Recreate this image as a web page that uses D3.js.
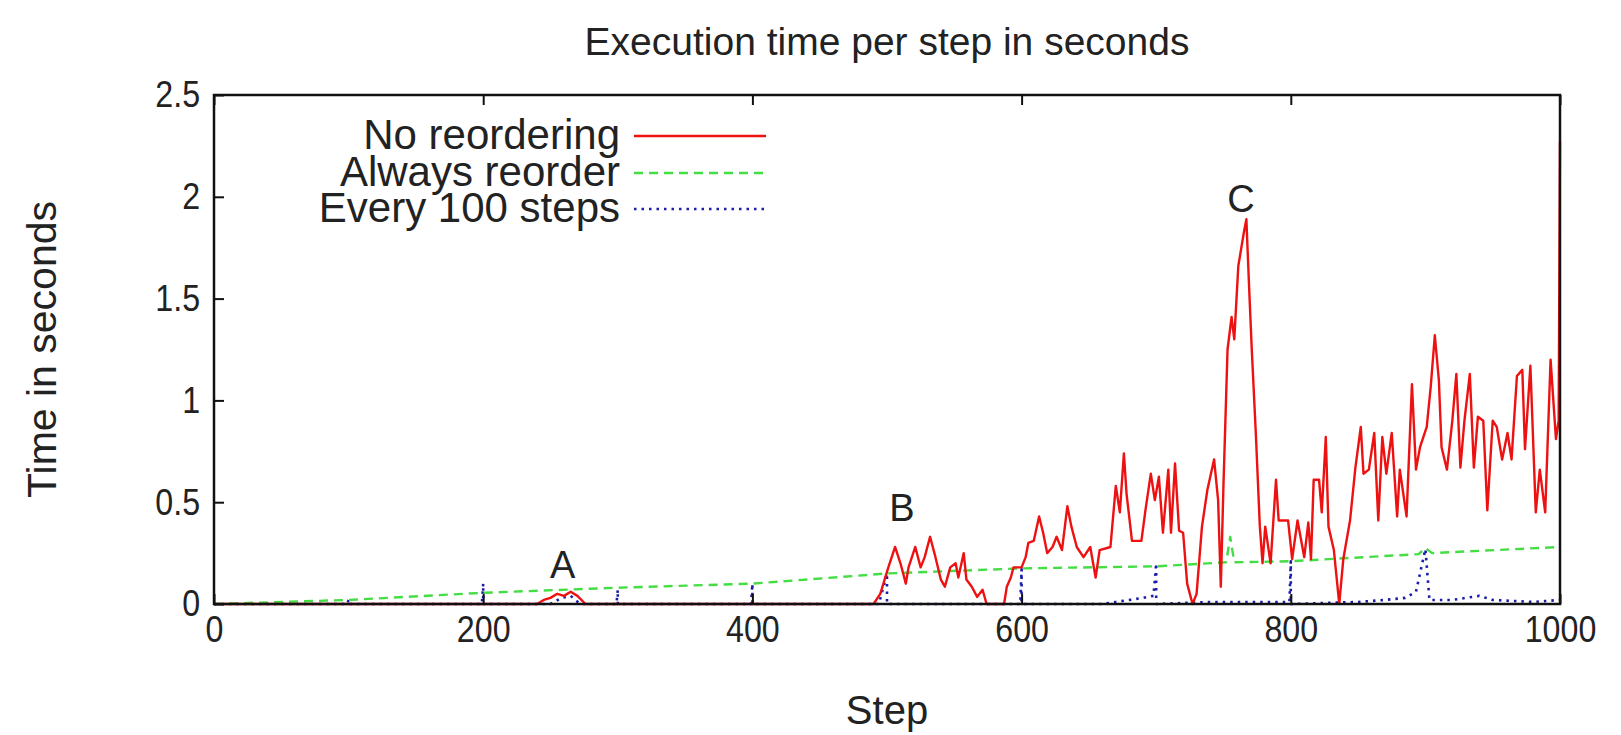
<!DOCTYPE html>
<html>
<head>
<meta charset="utf-8">
<script src="https://cdn.jsdelivr.net/npm/d3@7/dist/d3.min.js"></script>
<style>
  body { margin: 0; background: #fff; }
  text { font-family: "Liberation Sans", Arial, sans-serif; fill: #222; }
</style>
</head>
<body>
<div id="canvas"></div>
<script>
"use strict"

/* Data */
let stepTicks = [0, 200, 400, 600, 800, 1000];
let timeTicks = [0, 0.5, 1, 1.5, 2, 2.5];

let noReorderSteps = [0, 240, 245, 250, 255, 260, 265, 270, 276, 490, 495, 501, 506, 510, 514, 516, 521, 525, 528, 532,
    536, 540, 543, 547, 551, 553, 557, 559, 563, 567, 571, 574, 587, 589, 592, 594, 600, 603, 605, 609,
    613, 616, 619, 623, 626, 630, 634, 637, 641, 646, 651, 655, 658, 666, 670, 673, 676, 678, 682, 689,
    692, 696, 699, 702, 705, 709, 711, 714, 717, 720, 723, 727, 730, 734, 738, 743, 746, 748, 750, 753,
    756, 758, 761, 765, 767, 769, 771, 774, 777, 779, 781, 785, 789, 791, 798, 801, 805, 810, 813, 815,
    817, 821, 823, 826, 828, 832, 836, 839, 844, 848, 852, 854, 858, 862, 865, 868, 871, 875, 879, 881,
    886, 890, 893, 896, 901, 904, 907, 910, 912, 916, 920, 923, 926, 929, 933, 936, 939, 943, 946, 950,
    953, 957, 961, 964, 968, 972, 974, 978, 982, 985, 989, 993, 997, 999, 1000];
let noReorderTimes = [0, 0, 0.02, 0.03, 0.05, 0.04, 0.06, 0.04, 0, 0, 0.05, 0.18, 0.28, 0.2, 0.1, 0.18, 0.28, 0.18, 0.23, 0.33,
    0.23, 0.12, 0.085, 0.18, 0.2, 0.13, 0.25, 0.12, 0.085, 0.035, 0.07, 0, 0, 0.085, 0.13, 0.18, 0.18, 0.23, 0.3, 0.31,
    0.43, 0.35, 0.25, 0.28, 0.33, 0.265, 0.48, 0.38, 0.28, 0.23, 0.28, 0.13, 0.265, 0.28, 0.58, 0.45, 0.74, 0.54, 0.31, 0.31,
    0.46, 0.64, 0.51, 0.625, 0.35, 0.66, 0.35, 0.69, 0.36, 0.35, 0.1, 0, 0.05, 0.38, 0.56, 0.71, 0.51, 0.085, 0.59, 1.25,
    1.41, 1.3, 1.66, 1.82, 1.89, 1.56, 1.25, 0.84, 0.38, 0.2, 0.38, 0.2, 0.61, 0.41, 0.41, 0.22, 0.41, 0.23, 0.4, 0.22,
    0.61, 0.61, 0.45, 0.82, 0.38, 0.265, 0, 0.22, 0.41, 0.67, 0.87, 0.64, 0.66, 0.84, 0.41, 0.82, 0.64, 0.84, 0.43, 0.66,
    0.43, 1.08, 0.66, 0.77, 0.87, 1.07, 1.32, 1.1, 0.77, 0.66, 0.9, 1.13, 0.67, 0.9, 1.13, 0.67, 0.92, 0.9, 0.46, 0.9,
    0.87, 0.71, 0.84, 0.71, 1.12, 1.15, 0.76, 1.17, 0.45, 0.66, 0.45, 1.2, 0.81, 0.9, 2.27];

let alwaysSteps = [0, 100, 200, 300, 400, 500, 600, 700, 752, 755, 758, 800, 895, 900, 905, 1000];
let alwaysTimes = [0, 0.02, 0.055, 0.08, 0.1, 0.15, 0.175, 0.185, 0.205, 0.33, 0.205, 0.21, 0.245, 0.275, 0.25, 0.28];

let every100Steps = [0, 99, 100, 100, 199, 200, 200, 250, 258, 265, 272, 299, 300, 300, 399, 400, 400, 494, 500, 500,
    599, 600, 600, 660, 670, 680, 690, 698, 700, 700, 740, 760, 799, 800, 800, 850, 870, 885, 893, 900,
    903, 920, 940, 950, 980, 1000];
let every100Times = [0, 0, 0.02, 0, 0, 0.1, 0, 0, 0.03, 0.04, 0, 0, 0.07, 0, 0, 0.1, 0, 0, 0.15, 0,
    0, 0.17, 0, 0, 0.01, 0.02, 0.03, 0.04, 0.2, 0, 0.01, 0.01, 0.01, 0.21, 0, 0.01, 0.02, 0.03, 0.06, 0.27,
    0.02, 0.02, 0.04, 0.02, 0.01, 0.02];

let seriesNames = ["No reordering", "Always reorder", "Every 100 steps"];
let pointNames = ["A", "B", "C"];
let pointSteps = [259, 511, 763];
let pointTimes = [0.13, 0.41, 1.925];

/* Drawing configuration */
let svgWidth = 1621;
let svgHeight = 735;
let plotLeft = 214, plotRight = 1560, plotTop = 95, plotBottom = 604;
let font = "'Liberation Sans', Arial, sans-serif";

let svg = d3.select("#canvas")
    .append("svg")
    .attr("width", svgWidth)
    .attr("height", svgHeight);

let xScale = d3.scaleLinear()
    .domain([0, 1000])
    .range([plotLeft, plotRight]);

let yScale = d3.scaleLinear()
    .domain([0, 2.5])
    .range([plotBottom, plotTop]);

svg.append("clipPath")
    .attr("id", "plotClip")
    .append("rect")
    .attr("x", plotLeft)
    .attr("y", plotTop - 2)
    .attr("width", plotRight - plotLeft + 2)
    .attr("height", plotBottom - plotTop + 4);

let line = d3.line()
    .x(d => xScale(d[0]))
    .y(d => yScale(d[1]));

let series = [
    { steps: every100Steps, times: every100Times, color: "#1c1caa", dash: "2.5,5", width: 2.6 },
    { steps: alwaysSteps, times: alwaysTimes, color: "#44dd44", dash: "9,6", width: 2.4 },
    { steps: noReorderSteps, times: noReorderTimes, color: "#ee1111", dash: null, width: 2.4 }
];

let plot = svg.append("g").attr("clip-path", "url(#plotClip)");

series.forEach(function (s) {
    plot.append("path")
        .datum(s.steps.map((st, i) => [st, s.times[i]]))
        .attr("fill", "none")
        .attr("stroke", s.color)
        .attr("stroke-width", s.width)
        .attr("stroke-dasharray", s.dash)
        .attr("stroke-linejoin", "round")
        .attr("d", line);
});

/* axes, gnuplot style: ticks pointing inward */
let xAxis = svg.append("g")
    .attr("transform", "translate(0," + plotBottom + ")")
    .call(d3.axisBottom(xScale).tickValues(stepTicks).tickSize(-10).tickPadding(12)
        .tickFormat(d3.format("d")));

let xTop = svg.append("g")
    .attr("transform", "translate(0," + plotTop + ")")
    .call(d3.axisTop(xScale).tickValues(stepTicks).tickSize(-10).tickFormat(""));

let yAxis = svg.append("g")
    .attr("transform", "translate(" + plotLeft + ",0)")
    .call(d3.axisLeft(yScale).tickValues(timeTicks).tickSize(-10).tickPadding(16)
        .tickFormat(d3.format("")));

[xAxis, xTop, yAxis].forEach(function (g) {
    g.select(".domain").remove();
    g.selectAll(".tick line").attr("stroke", "#111").attr("stroke-width", 2);
    g.selectAll(".tick text")
        .style("font-family", font)
        .style("font-size", "37px")
        .attr("fill", "#222")
        .attr("transform", "scale(0.87,1)");
});

/* border box */
svg.append("rect")
    .attr("x", plotLeft)
    .attr("y", plotTop)
    .attr("width", plotRight - plotLeft)
    .attr("height", plotBottom - plotTop)
    .attr("fill", "none")
    .attr("stroke", "#111")
    .attr("stroke-width", 2.5);

/* titles */
svg.append("text")
    .attr("x", 887)
    .attr("y", 55)
    .attr("text-anchor", "middle")
    .style("font-size", "39px")
    .text("Execution time per step in seconds");

svg.append("text")
    .attr("x", 887)
    .attr("y", 724)
    .attr("text-anchor", "middle")
    .style("font-size", "40px")
    .text("Step");

svg.append("text")
    .attr("transform", "translate(56," + (plotTop + plotBottom) / 2 + ") rotate(-90)")
    .attr("text-anchor", "middle")
    .style("font-size", "41px")
    .text("Time in seconds");

/* point labels */
svg.selectAll(".pointLabel")
    .data(pointNames)
    .join("text")
    .attr("class", "pointLabel")
    .attr("x", (d, i) => xScale(pointSteps[i]))
    .attr("y", (d, i) => yScale(pointTimes[i]))
    .attr("text-anchor", "middle")
    .style("font-size", "38px")
    .text(d => d);

/* legend */
let legendRight = 620;
let legendY = [134, 171, 207];
let legendOrder = [2, 1, 0];

seriesNames.forEach(function (name, i) {
    let s = series[legendOrder[i]];
    svg.append("text")
        .attr("x", legendRight)
        .attr("y", legendY[i])
        .attr("dy", "0.36em")
        .attr("text-anchor", "end")
        .style("font-size", "42px")
        .text(name);
    svg.append("line")
        .attr("x1", 634)
        .attr("x2", 766)
        .attr("y1", legendY[i] + 2)
        .attr("y2", legendY[i] + 2)
        .attr("stroke", s.color)
        .attr("stroke-width", s.width)
        .attr("stroke-dasharray", s.dash);
});
</script>
</body>
</html>
